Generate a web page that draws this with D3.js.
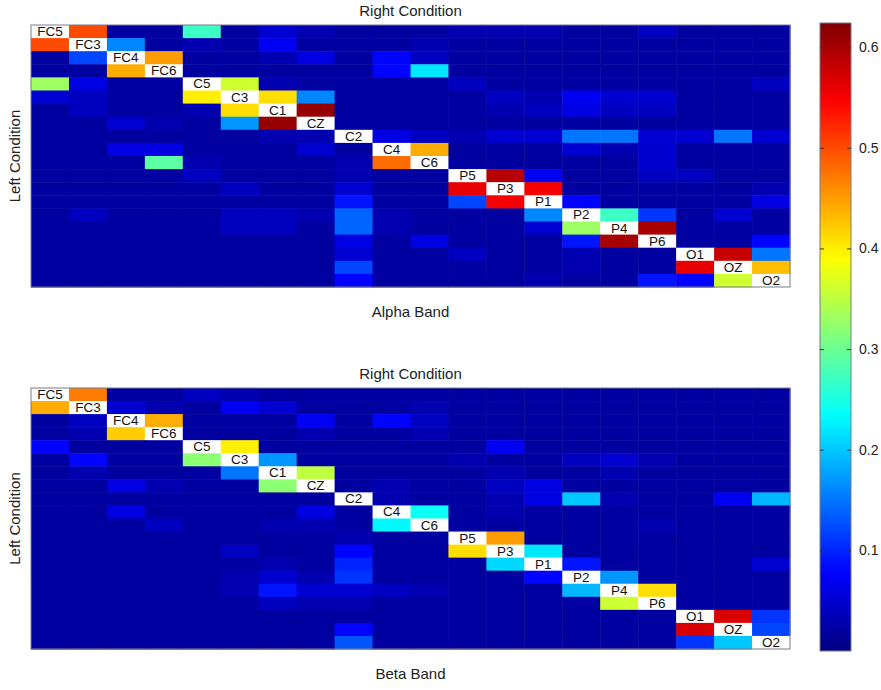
<!DOCTYPE html>
<html><head><meta charset="utf-8">
<script src="https://cdn.jsdelivr.net/npm/d3@7"></script>
<style>body{margin:0;background:#fff}text{font-family:"Liberation Sans",Arial,Helvetica,sans-serif}</style>
</head><body><svg id="c" width="881" height="690"></svg>
<script>
const channels = ["FC5","FC3","FC4","FC6","C5","C3","C1","CZ","C2","C4","C6","P5","P3","P1","P2","P4","P6","O1","OZ","O2"];
const colorTicks = [0.1,0.2,0.3,0.4,0.5,0.6];
const colorDomain = [0, 0.624];
const alphaValues = [
[null,0.50,0.02,0.02,0.27,0.02,0.05,0.03,0.02,0.02,0.02,0.03,0.03,0.03,0.02,0.02,0.04,0.02,0.02,0.02],
[0.50,null,0.16,0.02,0.03,0.02,0.07,0.02,0.02,0.02,0.03,0.02,0.02,0.02,0.02,0.02,0.02,0.02,0.02,0.02],
[0.02,0.12,null,0.45,0.02,0.02,0.03,0.06,0.02,0.08,0.04,0.02,0.02,0.02,0.02,0.02,0.02,0.02,0.02,0.02],
[0.02,0.02,0.44,null,0.02,0.02,0.02,0.02,0.02,0.08,0.22,0.02,0.02,0.02,0.02,0.02,0.02,0.02,0.02,0.02],
[0.33,0.06,0.02,0.02,null,0.36,0.03,0.02,0.02,0.02,0.02,0.04,0.02,0.02,0.02,0.02,0.02,0.02,0.02,0.04],
[0.05,0.04,0.02,0.02,0.40,null,0.41,0.16,0.02,0.02,0.02,0.02,0.04,0.03,0.07,0.05,0.05,0.02,0.02,0.02],
[0.02,0.04,0.02,0.02,0.03,0.41,null,0.61,0.02,0.02,0.02,0.02,0.03,0.04,0.06,0.04,0.04,0.02,0.02,0.02],
[0.02,0.02,0.05,0.03,0.02,0.17,0.61,null,0.02,0.02,0.02,0.02,0.02,0.02,0.02,0.02,0.02,0.02,0.02,0.02],
[0.02,0.02,0.02,0.02,0.02,0.02,0.03,0.03,null,0.06,0.04,0.03,0.05,0.05,0.15,0.15,0.05,0.05,0.15,0.05],
[0.02,0.02,0.06,0.06,0.02,0.02,0.02,0.05,0.02,null,0.44,0.02,0.02,0.02,0.05,0.03,0.05,0.02,0.02,0.02],
[0.02,0.02,0.02,0.29,0.03,0.02,0.02,0.02,0.03,0.48,null,0.02,0.02,0.02,0.02,0.02,0.05,0.02,0.02,0.02],
[0.02,0.02,0.02,0.02,0.04,0.02,0.02,0.02,0.03,0.02,0.02,null,0.59,0.07,0.02,0.02,0.04,0.04,0.02,0.02],
[0.02,0.02,0.02,0.02,0.02,0.04,0.02,0.02,0.05,0.02,0.02,0.56,null,0.55,0.02,0.02,0.02,0.02,0.02,0.03],
[0.02,0.02,0.02,0.02,0.02,0.02,0.02,0.02,0.09,0.02,0.02,0.12,0.55,null,0.08,0.02,0.02,0.02,0.02,0.06],
[0.02,0.04,0.02,0.02,0.02,0.04,0.04,0.03,0.14,0.03,0.02,0.02,0.02,0.16,null,0.27,0.11,0.02,0.05,0.02],
[0.02,0.02,0.02,0.02,0.02,0.04,0.04,0.02,0.14,0.03,0.02,0.02,0.02,0.05,0.33,null,0.60,0.02,0.02,0.02],
[0.02,0.02,0.02,0.02,0.02,0.02,0.02,0.02,0.06,0.02,0.06,0.02,0.02,0.02,0.09,0.60,null,0.02,0.02,0.08],
[0.02,0.02,0.02,0.02,0.02,0.02,0.02,0.02,0.05,0.02,0.02,0.04,0.02,0.02,0.03,0.02,0.02,null,0.58,0.15],
[0.02,0.02,0.02,0.02,0.02,0.02,0.02,0.02,0.12,0.02,0.02,0.02,0.02,0.02,0.03,0.02,0.02,0.56,null,0.43],
[0.02,0.02,0.02,0.02,0.02,0.02,0.02,0.02,0.08,0.02,0.02,0.02,0.02,0.03,0.02,0.02,0.09,0.08,0.36,null]
];
const betaValues = [
[null,0.47,0.02,0.02,0.04,0.03,0.02,0.02,0.02,0.02,0.02,0.02,0.02,0.02,0.02,0.02,0.02,0.02,0.02,0.02],
[0.44,null,0.05,0.03,0.02,0.07,0.05,0.02,0.02,0.02,0.03,0.02,0.02,0.02,0.02,0.02,0.02,0.02,0.02,0.02],
[0.02,0.04,null,0.44,0.02,0.02,0.02,0.07,0.02,0.08,0.04,0.02,0.02,0.02,0.02,0.02,0.02,0.02,0.02,0.02],
[0.02,0.03,0.42,null,0.02,0.02,0.02,0.03,0.02,0.02,0.03,0.02,0.02,0.02,0.02,0.02,0.02,0.02,0.02,0.02],
[0.08,0.02,0.02,0.02,null,0.40,0.02,0.02,0.02,0.02,0.02,0.02,0.07,0.02,0.02,0.02,0.02,0.02,0.02,0.02],
[0.02,0.08,0.02,0.02,0.32,null,0.17,0.02,0.02,0.02,0.02,0.03,0.02,0.02,0.04,0.05,0.03,0.02,0.02,0.02],
[0.02,0.03,0.02,0.02,0.02,0.15,null,0.35,0.02,0.02,0.02,0.02,0.03,0.02,0.02,0.03,0.02,0.02,0.02,0.02],
[0.02,0.02,0.06,0.03,0.02,0.02,0.32,null,0.02,0.03,0.02,0.02,0.04,0.06,0.02,0.02,0.02,0.02,0.02,0.02],
[0.02,0.02,0.02,0.02,0.02,0.02,0.02,0.02,null,0.03,0.02,0.02,0.03,0.06,0.20,0.03,0.02,0.02,0.07,0.19],
[0.02,0.02,0.06,0.02,0.02,0.02,0.02,0.06,0.02,null,0.24,0.02,0.03,0.02,0.02,0.02,0.02,0.02,0.02,0.02],
[0.02,0.02,0.02,0.04,0.02,0.02,0.03,0.03,0.02,0.23,null,0.02,0.02,0.02,0.02,0.02,0.03,0.02,0.02,0.02],
[0.02,0.02,0.02,0.02,0.02,0.02,0.02,0.02,0.03,0.02,0.02,null,0.45,0.02,0.02,0.02,0.02,0.02,0.02,0.02],
[0.02,0.02,0.02,0.02,0.02,0.04,0.02,0.02,0.08,0.02,0.02,0.41,null,0.22,0.02,0.02,0.02,0.02,0.02,0.02],
[0.02,0.02,0.02,0.02,0.02,0.02,0.03,0.02,0.10,0.02,0.02,0.02,0.21,null,0.09,0.02,0.02,0.02,0.02,0.05],
[0.02,0.02,0.02,0.02,0.02,0.03,0.05,0.03,0.11,0.02,0.02,0.02,0.02,0.08,null,0.17,0.02,0.02,0.02,0.02],
[0.02,0.02,0.02,0.02,0.02,0.03,0.09,0.05,0.05,0.04,0.03,0.02,0.02,0.02,0.19,null,0.41,0.02,0.02,0.02],
[0.02,0.02,0.02,0.02,0.02,0.02,0.04,0.03,0.03,0.02,0.02,0.02,0.02,0.02,0.02,0.36,null,0.02,0.02,0.02],
[0.02,0.02,0.02,0.02,0.02,0.02,0.02,0.02,0.02,0.02,0.02,0.02,0.02,0.02,0.02,0.02,0.02,null,0.57,0.11],
[0.02,0.02,0.02,0.02,0.02,0.02,0.02,0.02,0.08,0.02,0.02,0.02,0.02,0.02,0.02,0.02,0.02,0.57,null,0.12],
[0.02,0.02,0.02,0.02,0.02,0.02,0.02,0.02,0.13,0.02,0.02,0.02,0.02,0.02,0.02,0.02,0.02,0.11,0.20,null]
];
const panels = [
  {values: alphaValues, band: "Alpha Band", top: 25, bottom: 287},
  {values: betaValues, band: "Beta Band", top: 388, bottom: 649}
];

function jet(t){
  const c = v => Math.max(0, Math.min(1, v));
  const r = c(1.5 - Math.abs(4*t - 3)), g = c(1.5 - Math.abs(4*t - 2)), b = c(1.5 - Math.abs(4*t - 1));
  return d3.rgb(r*255, g*255, b*255).toString();
}
const color = d3.scaleSequential(jet).domain(colorDomain);

const svg = d3.select("#c");
const left = 31, right = 790;
const x = d3.scaleBand().domain(channels).range([left, right]);

panels.forEach(p => {
  const y = d3.scaleBand().domain(channels).range([p.top, p.bottom]);
  const g = svg.append("g");
  const cells = [];
  p.values.forEach((row, i) => row.forEach((v, j) => cells.push({r: channels[i], c: channels[j], v})));
  g.selectAll("rect.cell").data(cells).join("rect")
    .attr("class","cell")
    .attr("x", d => x(d.c)).attr("y", d => y(d.r))
    .attr("width", x.bandwidth() + 0.5).attr("height", y.bandwidth() + 0.5)
    .attr("fill", d => d.v === null ? "#ffffff" : color(d.v));
  g.selectAll("text.lab").data(cells.filter(d => d.v === null)).join("text")
    .attr("class","lab")
    .attr("x", d => x(d.c) + x.bandwidth()/2)
    .attr("y", d => y(d.r) + y.bandwidth()/2 + 4.5)
    .attr("text-anchor","middle").attr("font-size", 13.5).attr("fill","#111")
    .text(d => d.r);
  g.append("rect").attr("x", left).attr("y", p.top).attr("width", right-left).attr("height", p.bottom-p.top)
    .attr("fill","none").attr("stroke","#7a7a8a").attr("stroke-width",1);
  svg.append("text").attr("x", (left+right)/2).attr("y", p.top - 9)
    .attr("text-anchor","middle").attr("font-size",15).attr("fill","#222").text("Right Condition");
  svg.append("text").attr("x", (left+right)/2).attr("y", p.bottom + 30)
    .attr("text-anchor","middle").attr("font-size",15).attr("fill","#222").text(p.band);
  svg.append("text").attr("transform", `translate(20,${(p.top+p.bottom)/2}) rotate(-90)`)
    .attr("text-anchor","middle").attr("font-size",15).attr("fill","#222").text("Left Condition");
});

// colorbar
const cbX = 820, cbW = 31, cbTop = 23, cbBottom = 651;
const cy = d3.scaleLinear().domain(colorDomain).range([cbBottom, cbTop]);
const defs = svg.append("defs");
const grad = defs.append("linearGradient").attr("id","jetg").attr("x1",0).attr("y1",1).attr("x2",0).attr("y2",0);
d3.range(0, 1.0001, 0.02).forEach(t => grad.append("stop").attr("offset", t)
  .attr("stop-color", color(colorDomain[0] + t*(colorDomain[1]-colorDomain[0]))));
svg.append("rect").attr("x", cbX).attr("y", cbTop).attr("width", cbW).attr("height", cbBottom-cbTop)
  .attr("fill","url(#jetg)").attr("stroke","#7a7a8a");
const axR = svg.append("g").attr("transform", `translate(${cbX+cbW},0)`)
  .call(d3.axisRight(cy).tickValues(colorTicks).tickSizeInner(-4).tickSizeOuter(0).tickPadding(8).tickFormat(d3.format(".1f")));
const axL = svg.append("g").attr("transform", `translate(${cbX},0)`)
  .call(d3.axisLeft(cy).tickValues(colorTicks).tickSizeInner(-4).tickSizeOuter(0).tickFormat(""));
[axR, axL].forEach(a => { a.select(".domain").remove(); a.selectAll("line").attr("stroke","#333"); });
axR.selectAll("text").attr("font-size",14).attr("fill","#222").attr("font-family","Liberation Sans, Arial, sans-serif");
</script></body></html>
